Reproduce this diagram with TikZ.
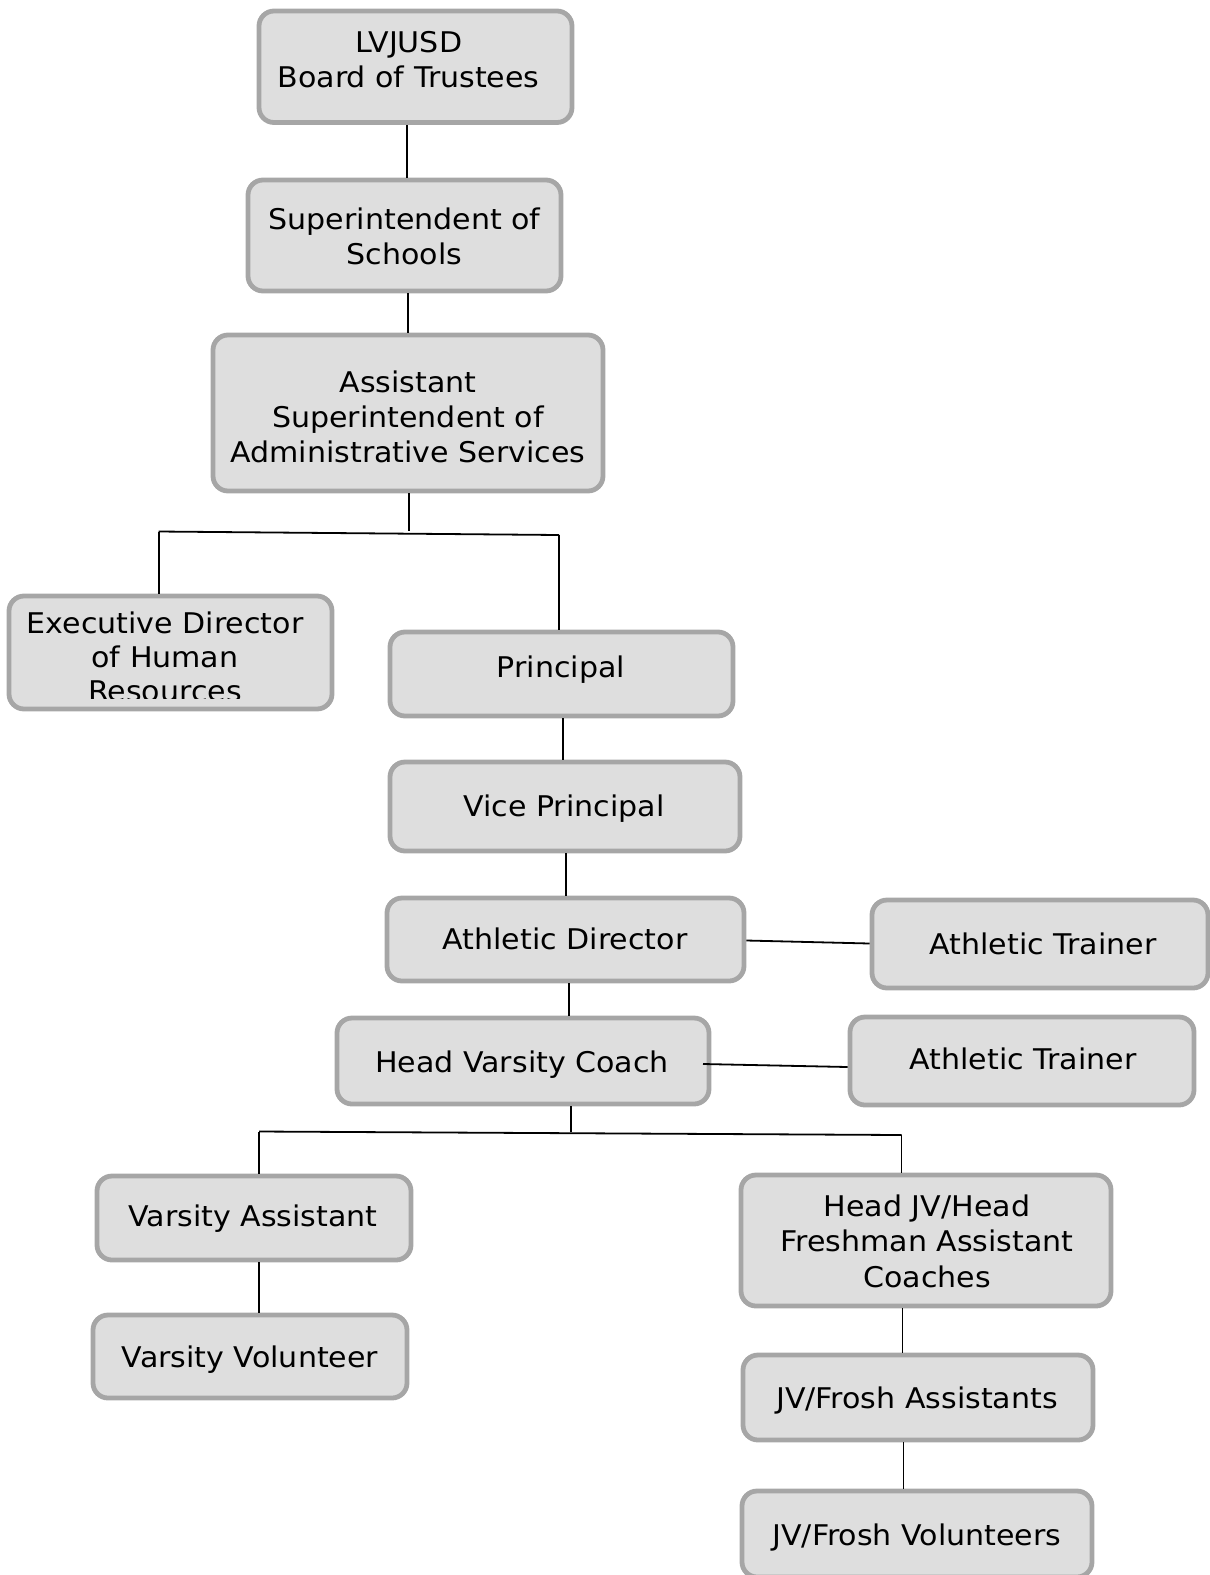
\documentclass[tikz,border=0pt]{standalone}
\usepackage{fontspec}
\setmainfont[FakeStretch=1.055]{DejaVu Sans}
\usetikzlibrary{fit}
\definecolor{boxfill}{HTML}{DEDEDE}
\definecolor{boxline}{HTML}{A6A6A6}
\begin{document}
\begin{tikzpicture}[x=1pt,y=-1pt,
  box/.style={rectangle, draw=boxline, fill=boxfill, line width=4.8pt, rounded corners=15pt, inner sep=0pt},
  lbl/.style={anchor=base, inner sep=0pt, font=\fontsize{28.5}{35}\selectfont},
  conn/.style={draw=black, line width=1.8pt}]
\useasboundingbox (0,0) rectangle (1210,1575);
% boxes
\node[box, fit={(259,11) (572,122.5)}] (b1) {};
\node[box, fit={(248,180) (561,291)}] (b2) {};
\node[box, fit={(213,335) (603,491)}] (b3) {};
\node[box, fit={(9,596) (332,709)}] (b4) {};
\node[box, fit={(390,632) (733,716)}] (b5) {};
\node[box, fit={(390,762) (740,851)}] (b6) {};
\node[box, fit={(387,898) (744,981)}] (b7) {};
\node[box, fit={(872,900) (1208,988)}] (b8) {};
\node[box, fit={(337,1018) (709,1104)}] (b9) {};
\node[box, fit={(850,1017) (1194,1105)}] (b10) {};
\node[box, fit={(97,1176) (411,1260)}] (b11) {};
\node[box, fit={(741,1175) (1111,1306)}] (b12) {};
\node[box, fit={(93,1315) (407,1398)}] (b13) {};
\node[box, fit={(743,1355) (1093,1440)}] (b14) {};
\node[box, fit={(742,1491) (1092,1577)}] (b15) {};
% labels
\node[lbl] (t1a) at (408.6,52.7) {LVJUSD};
\node[lbl] (t1b) at (408.6,87.8) {Board of Trustees};
\node[lbl] (t2a) at (404.6,229.5) {Superintendent of};
\node[lbl] (t2b) at (404.6,264.5) {Schools};
\node[lbl] (t3a) at (408,392) {Assistant};
\node[lbl] (t3b) at (408,427) {Superintendent of};
\node[lbl] (t3c) at (408,462) {Administrative Services};
\node[lbl] (t4a) at (165,633) {Executive Director};
\node[lbl] (t4b) at (165,667) {of Human};
\begin{scope}
\clip (0,0) rectangle (1210,698);
\node[lbl] (t4c) at (165,701) {Resources};
\end{scope}
\node[lbl] (t5) at (561,677) {Principal};
\node[lbl] (t6) at (564,816.5) {Vice Principal};
\node[lbl] (t7) at (565,949.5) {Athletic Director};
\node[lbl] (t8) at (1043,954.5) {Athletic Trainer};
\node[lbl] (t9) at (522,1072.5) {Head Varsity Coach};
\node[lbl] (t10) at (1023,1069.5) {Athletic Trainer};
\node[lbl] (t11) at (253,1226.5) {Varsity Assistant};
\node[lbl] (t12a) at (927,1216.5) {Head JV/Head};
\node[lbl] (t12b) at (927,1251.5) {Freshman Assistant};
\node[lbl] (t12c) at (927,1287.5) {Coaches};
\node[lbl] (t13) at (250,1367.5) {Varsity Volunteer};
\node[lbl] (t14) at (917,1408) {JV/Frosh Assistants};
\node[lbl] (t15) at (917,1545.5) {JV/Frosh Volunteers};
% connectors
\draw[conn] (b1.south -| 406.6,0) -- (b2.north -| 406.6,0);
\draw[conn] (b2.south -| 407.6,0) -- (b3.north -| 407.6,0);
\coordinate (j1) at (408.6,531);
\coordinate (j1l) at (158.6,531.5);
\coordinate (j1r) at (559,535);
\draw[conn] (b3.south -| j1) -- (j1);
\draw[conn] (j1l) -- (j1r);
\draw[conn] (j1l) -- (b4.north -| j1l);
\draw[conn] (j1r) -- (b5.north -| j1r);
\draw[conn] (b5.south -| 563,0) -- (b6.north -| 563,0);
\draw[conn] (b6.south -| 566,0) -- (b7.north -| 566,0);
\draw[conn] (b7.east |- 0,940.5) -- (b8.west |- 0,943.5);
\draw[conn] (b7.south -| 569,0) -- (b9.north -| 569,0);
\coordinate (h) at (703,1064);
\draw[conn] (h) -- (b10.west |- 0,1067);
\coordinate (j2) at (571,1132);
\coordinate (j2l) at (259,1131.5);
\coordinate (j2r) at (901.5,1135);
\draw[conn] (b9.south -| j2) -- (j2);
\draw[conn] (j2l) -- (j2r);
\draw[conn] (j2l) -- (b11.north -| j2l);
\draw[conn] (j2r) -- (b12.north -| j2r);
\draw[conn] (b11.south -| 259,0) -- (b13.north -| 259,0);
\draw[conn] (b12.south -| 902.5,0) -- (b14.north -| 902.5,0);
\draw[conn] (b14.south -| 903.5,0) -- (b15.north -| 903.5,0);
\end{tikzpicture}
\end{document}
